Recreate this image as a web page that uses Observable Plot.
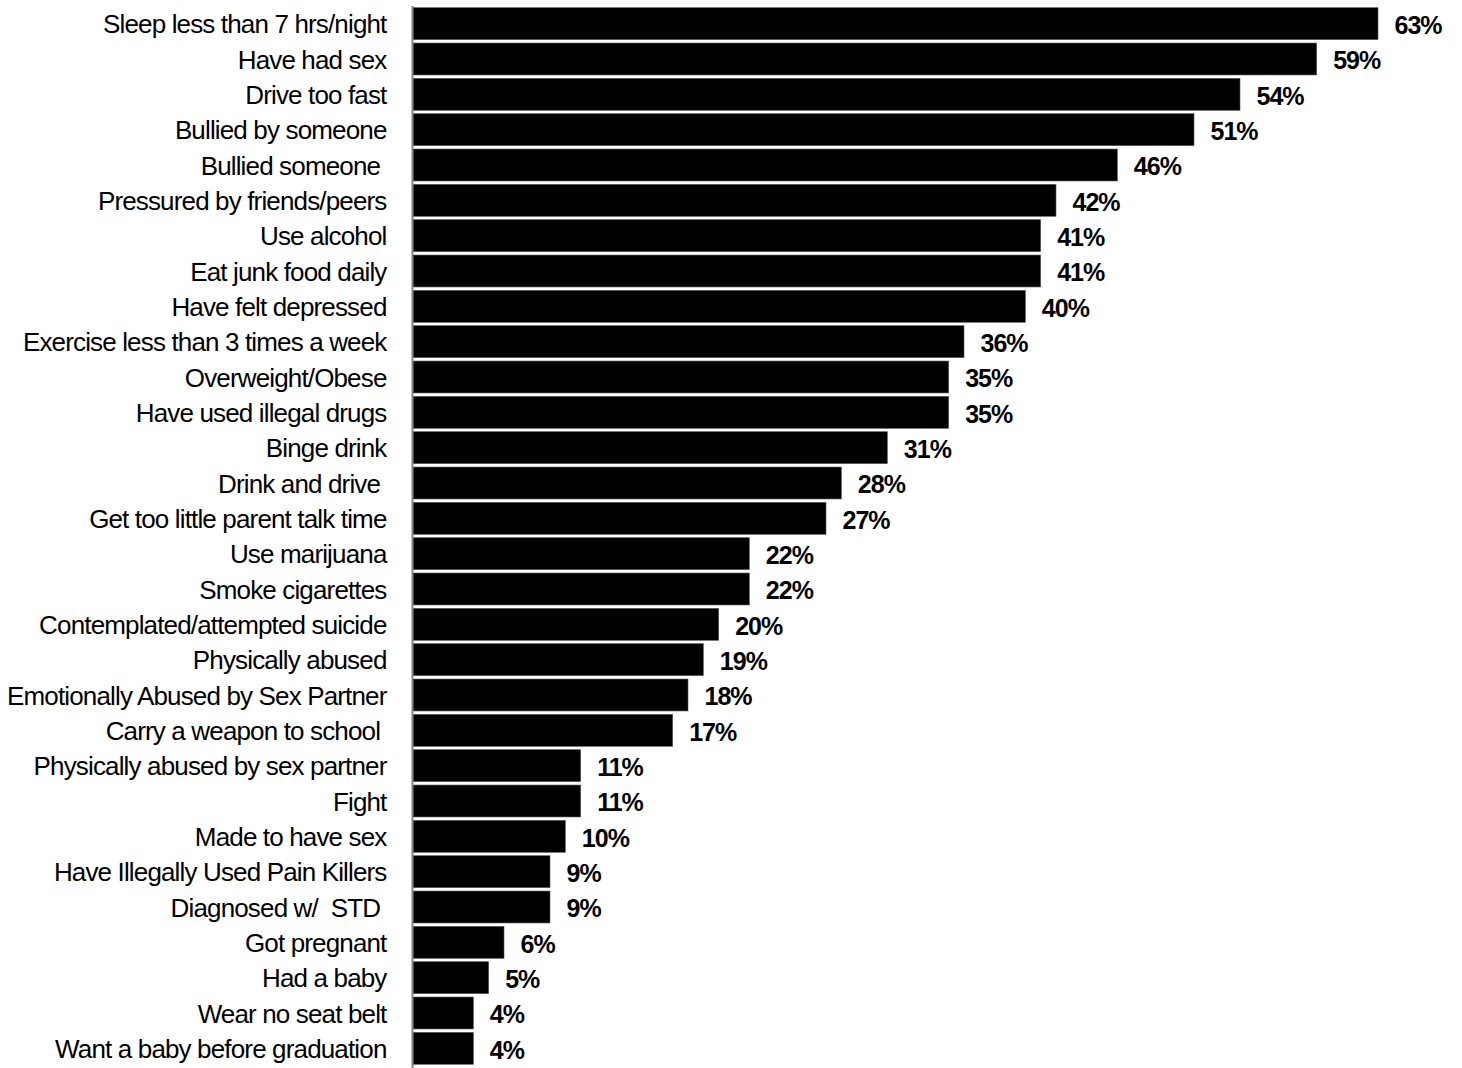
<!DOCTYPE html>
<html>
<head>
<meta charset="utf-8">
<script src="https://cdn.jsdelivr.net/npm/d3@7"></script>
<script src="https://cdn.jsdelivr.net/npm/@observablehq/plot@0.6"></script>
<style>
  html, body { margin: 0; padding: 0; background: #fff; }
  #chart svg { display: block; }
  #chart svg g[aria-label="y-axis tick label"] text { letter-spacing: -0.85px; }
  #chart svg g[aria-label="text"] text { letter-spacing: -1px; }
</style>
</head>
<body>
<div id="chart"></div>
<script>
const categories = [
  "Sleep less than 7 hrs/night",
  "Have had sex",
  "Drive too fast",
  "Bullied by someone",
  "Bullied someone\u00a0",
  "Pressured by friends/peers",
  "Use alcohol",
  "Eat junk food daily",
  "Have felt depressed",
  "Exercise less than 3 times a week",
  "Overweight/Obese",
  "Have used illegal drugs",
  "Binge drink",
  "Drink and drive\u00a0",
  "Get too little parent talk time",
  "Use marijuana",
  "Smoke cigarettes",
  "Contemplated/attempted suicide",
  "Physically abused",
  "Emotionally Abused by Sex Partner",
  "Carry a weapon to school\u00a0",
  "Physically abused by sex partner",
  "Fight",
  "Made to have sex",
  "Have Illegally Used Pain Killers",
  "Diagnosed w/  STD\u00a0",
  "Got pregnant",
  "Had a baby",
  "Wear no seat belt",
  "Want a baby before graduation"
];
const values = [63, 59, 54, 51, 46, 42, 41, 41, 40, 36, 35, 35, 31, 28, 27, 22, 22, 20, 19, 18, 17, 11, 11, 10, 9, 9, 6, 5, 4, 4];

const data = categories.map((c, i) => ({category: c, value: values[i]}));

const sans = '"Liberation Sans Narrow", "Arial Narrow", "Liberation Sans", Arial, sans-serif';

const chart = Plot.plot({
  width: 1462,
  height: 1068,
  marginLeft: 412,
  marginRight: 84,
  marginTop: 6,
  marginBottom: 2,
  style: {fontFamily: sans, background: "#fff", overflow: "visible"},
  x: {domain: [0, 63], axis: null},
  y: {domain: categories, padding: 0, round: false, label: null},
  marks: [
    Plot.barX(data, {x: "value", y: "category", fill: "#000", stroke: "#555", strokeWidth: 0.6, insetTop: 1.7, insetBottom: 1.7, insetLeft: 1}),
    Plot.ruleX([0], {stroke: "#808080", strokeWidth: 2, insetBottom: -2, insetTop: 0}),
    Plot.text(data, {x: "value", y: "category", text: d => d.value + "%", textAnchor: "start", dx: 16, dy: 1.7, fontSize: 25, fontWeight: "bold", fill: "#000"}),
    Plot.axisY({tickSize: 0, tickPadding: 26, fontSize: 26, label: null, fill: "#000", dy: 1})
  ]
});
document.getElementById("chart").appendChild(chart);
</script>
</body>
</html>
